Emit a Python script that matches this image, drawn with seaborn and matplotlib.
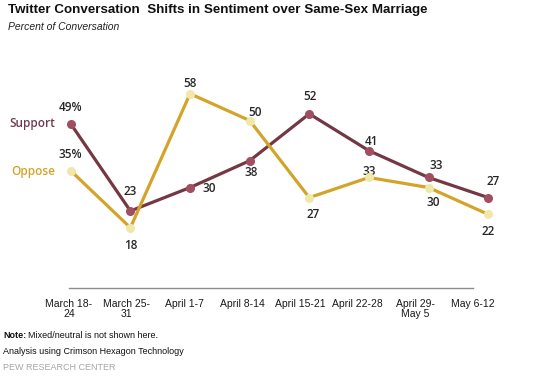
import numpy as np
import pandas as pd
import seaborn as sns
import matplotlib.pyplot as plt

# Data
weeks = ['March 18-\n24', 'March 25-\n31', 'April 1-7', 'April 8-14',
         'April 15-21', 'April 22-28', 'April 29-\nMay 5', 'May 6-12']
support = [49, 23, 30, 38, 52, 41, 33, 27]
oppose = [35, 18, 58, 50, 27, 33, 30, 22]

# label offsets in pixels (dx, dy) for each point
support_off = [(0, 16), (0, 19), (19, -1), (2, -12), (1, 17), (3, 9), (8, 12), (5, 16)]
oppose_off = [(0, 16), (0, -18), (0, 10), (5, 8), (4, -17), (0, 6), (5, -15), (0, -17)]

df = pd.DataFrame({'x': list(range(len(weeks))) * 2,
                   'value': support + oppose,
                   'series': ['Support'] * len(weeks) + ['Oppose'] * len(weeks)})

sns.set_style('white')
plt.rcParams['font.family'] = ['Liberation Sans', 'DejaVu Sans']

line_colors = {'Support': '#743845', 'Oppose': '#D4A42A'}
marker_colors = {'Support': '#A04E60', 'Oppose': '#EEE9AA'}
label_colors = {'Support': '#6E3A52', 'Oppose': '#D4A42A'}

fig = plt.figure(figsize=(5.39, 3.77), dpi=100)
ax = fig.add_axes([0.076, 0.236, 0.885, 0.622])

sns.lineplot(data=df, x='x', y='value', hue='series', palette=line_colors,
             linewidth=2.3, legend=False, ax=ax)
for name in ['Support', 'Oppose']:
    sub = df[df['series'] == name]
    ax.plot(sub['x'], sub['value'], linestyle='none', marker='o', markersize=5.5,
            markerfacecolor=marker_colors[name], markeredgecolor=marker_colors[name], zorder=4)

for name, vals, offs in [('Support', support, support_off), ('Oppose', oppose, oppose_off)]:
    for i, (v, (dx, dy)) in enumerate(zip(vals, offs)):
        txt = f'{v}%' if i == 0 else str(v)
        ax.annotate(txt, (i, v), xytext=(dx, dy), textcoords='offset pixels',
                    ha='center', va='center', fontsize=8.5, fontweight='semibold',
                    color='#262626', family=['Open Sans', 'DejaVu Sans'])

ax.set_xlim(-0.5, 7.5)
ax.set_ylim(0, 70)
ax.set_yticks([])
ax.set_xlabel('')
ax.set_ylabel('')
ticks = np.arange(len(weeks)) * 0.968 - 0.03
ax.set_xticks(ticks)
ax.set_xticklabels(weeks, fontsize=7.5, color='#1a1a1a', linespacing=1.0)
ax.tick_params(axis='x', length=4, color='#8c8c8c', width=1, direction='out', pad=4)
for s in ['top', 'left', 'right']:
    ax.spines[s].set_visible(False)
ax.spines['bottom'].set_color('#8c8c8c')
ax.spines['bottom'].set_linewidth(1)
ax.spines['bottom'].set_bounds(ticks[0], ticks[-1])

# series names on the left
fig.text(55 / 539, 1 - 123 / 377, 'Support', ha='right', va='center', fontsize=8.5,
         fontweight='semibold', color=label_colors['Support'], family=['Open Sans', 'DejaVu Sans'])
fig.text(55 / 539, 1 - 171 / 377, 'Oppose', ha='right', va='center', fontsize=8.5,
         fontweight='semibold', color=label_colors['Oppose'], family=['Open Sans', 'DejaVu Sans'])

fig.text(8 / 539, 1 - 10 / 377, 'Twitter Conversation  Shifts in Sentiment over Same-Sex Marriage',
         ha='left', va='center', fontsize=9.6, fontweight='bold', color='#111111')
fig.text(8 / 539, 1 - 27 / 377, 'Percent of Conversation', ha='left', va='center',
         fontsize=7.5, style='italic', color='#222222')

fig.text(3 / 539, 1 - 336 / 377, 'Note:', ha='left', va='center', fontsize=6.5,
         fontweight='bold', color='#111111')
fig.text(28 / 539, 1 - 336 / 377, 'Mixed/neutral is not shown here.', ha='left', va='center',
         fontsize=6.5, color='#111111')
fig.text(3 / 539, 1 - 351 / 377, 'Analysis using Crimson Hexagon Technology', ha='left',
         va='center', fontsize=6.5, color='#111111')
fig.text(3 / 539, 1 - 368 / 377, 'PEW RESEARCH CENTER', ha='left', va='center',
         fontsize=6.5, color='#a6a6a6')

fig.savefig('out.png', dpi=100, facecolor='white')
